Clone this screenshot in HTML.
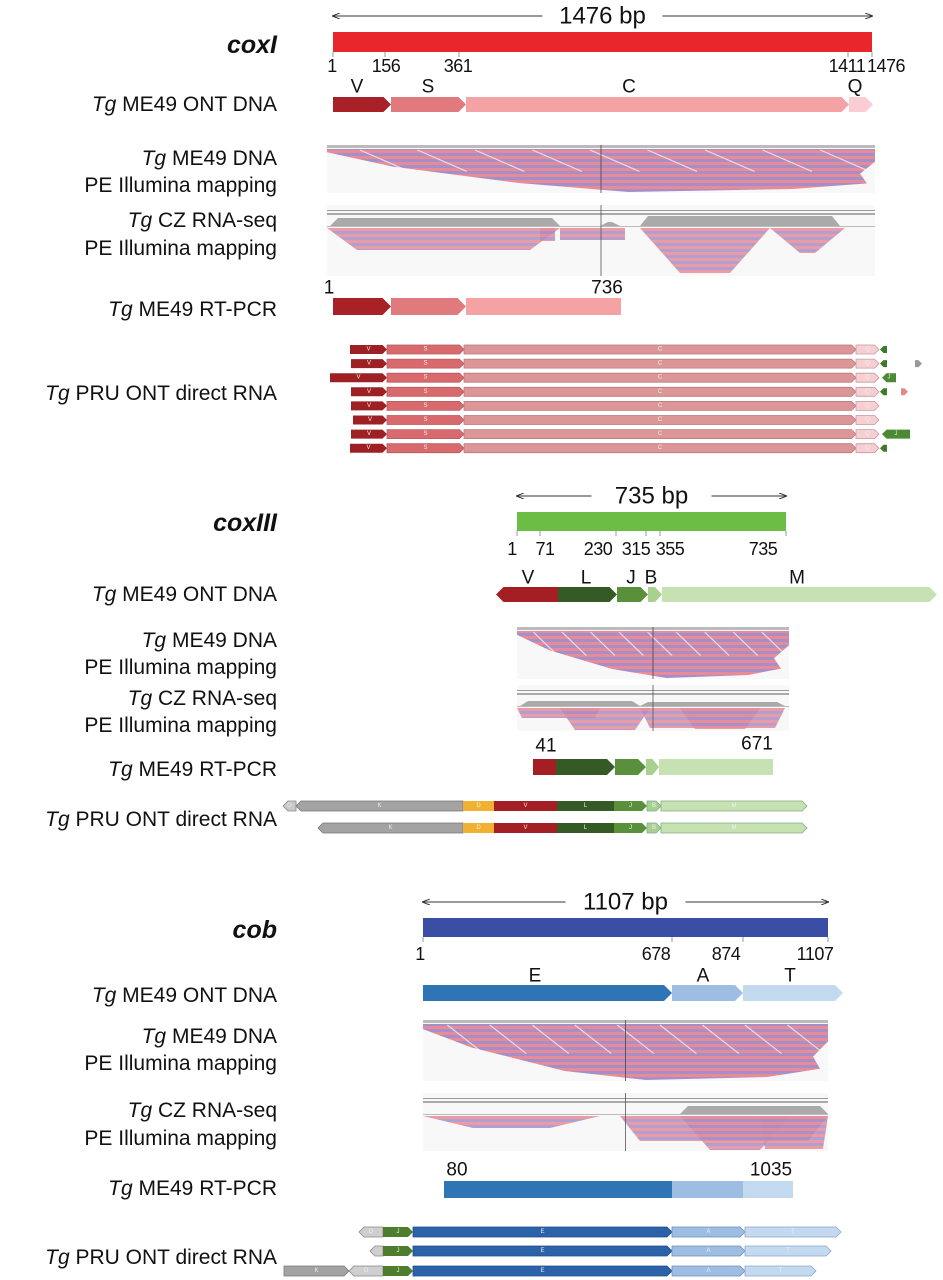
<!DOCTYPE html>
<html><head><meta charset="utf-8"><style>
html,body{margin:0;padding:0;background:#fff;}
svg{display:block;font-family:"Liberation Sans",sans-serif;}
</style></head><body>
<svg id="fig" width="943" height="1280" viewBox="0 0 943 1280" xmlns="http://www.w3.org/2000/svg">
<defs>
<pattern id="reads" width="12" height="6" patternUnits="userSpaceOnUse">
<rect width="12" height="6" fill="#e98a95"/><rect y="3" width="12" height="3" fill="#a48fcb"/>
</pattern>
<marker id="ah" markerWidth="8" markerHeight="6" refX="7" refY="3" orient="auto-start-reverse"><path d="M0,0 L8,3 L0,6" fill="none" stroke="#333" stroke-width="1"/></marker>
</defs>
<g id="root"></g>
</svg>
<script>
const NS='http://www.w3.org/2000/svg';
const root=document.getElementById('root');
function mk(tag,attrs,parent){const e=document.createElementNS(NS,tag);for(const k in attrs)e.setAttribute(k,attrs[k]);(parent||root).appendChild(e);return e;}
function txt(x,y,s,size,anchor,opts){opts=opts||{};const t=mk('text',{x:x,y:y,'font-size':size,'text-anchor':anchor||'middle','dominant-baseline':'central',fill:'#111'});
 if(opts.bold)t.setAttribute('font-weight','bold');if(opts.italic)t.setAttribute('font-style','italic');t.textContent=s;return t;}
function rowLabel(y,parts){const t=mk('text',{x:277,y:y,'font-size':21,'text-anchor':'end','dominant-baseline':'central',fill:'#111'});
 if(parts[0]){const a=mk('tspan',{'font-style':'italic'},t);a.textContent=parts[0];}
 const b=mk('tspan',{},t);b.textContent=parts[1];
 return t;}
function seg(x1,x2,y,h,color,r,l,label,lsize,stroke){
 const d=Math.min(h*0.5,(x2-x1)*0.5);const m=y+h/2;
 const pts=[[x1+(l?d:0),y],[x2-(r?d:0),y],[x2,m],[x2-(r?d:0),y+h],[x1+(l?d:0),y+h],[x1,m]];
 const p=mk('polygon',{points:pts.map(p=>p.join(',')).join(' '),fill:color});
 if(stroke){p.setAttribute('stroke',stroke);p.setAttribute('stroke-width',0.8);}
 
 if(label){const t=txt((x1+x2)/2,m,label,lsize||6,'middle');t.setAttribute('fill','#eee');}
 return p;}
function scaleBar(x1,x2,y,h,color,arrowY,bpText,ticks,tickY){
 mk('line',{x1:x1,y1:arrowY,x2:(x1+x2)/2-60,y2:arrowY,stroke:'#333','stroke-width':1,'marker-start':'url(#ah)'});
 mk('line',{x1:(x1+x2)/2+60,y1:arrowY,x2:x2,y2:arrowY,stroke:'#333','stroke-width':1,'marker-end':'url(#ah)'});
 const t=txt((x1+x2)/2,arrowY,bpText,24,'middle');
 const r=mk('rect',{x:x1,y:y,width:x2-x1,height:h,fill:color});
 ticks.forEach(tk=>{mk('line',{x1:tk[1],y1:y+h,x2:tk[1],y2:y+h+5,stroke:'#999','stroke-width':1});
  const tt=txt(tk[2],tickY,tk[0],18,'middle');tt.setAttribute('letter-spacing','-0.5');});}
function title(y,s){const t=txt(277,y,s,25,'end',{bold:true,italic:true});}
function dnaPanel(x1,x2,y1,y2){
 const g=mk('g',{});
 mk('rect',{x:x1,y:y1,width:x2-x1,height:y2-y1,fill:'#f8f8f8'},g);
 mk('rect',{x:x1,y:y1,width:x2-x1,height:3,fill:'#bbb'},g);
 const w=x2-x1,h=y2-y1;
 mk('polygon',{points:`${x1},${y1+4} ${x2},${y1+4} ${x2},${y1+h*0.35} ${x2-15},${y1+h*0.6} ${x2-8},${y1+h*0.8} ${x1+w*0.85},${y2-4} ${x1+w*0.55},${y2-1} ${x1+w*0.35},${y2-10} ${x1+w*0.12},${y1+h*0.45} ${x1},${y1+h*0.15}`,fill:'url(#reads)'},g);
 for(let i=0;i<9;i++){const sx=x1+w*(0.06+i*0.105);mk('line',{x1:sx,y1:y1+5,x2:sx+w*0.09,y2:y1+h*0.55,stroke:'#fff','stroke-width':1.2,opacity:0.7},g);}
 mk('line',{x1:x1+w*0.5,y1:y1,x2:x1+w*0.5,y2:y2,stroke:'#444','stroke-width':0.8},g);}
function rnaPanel(x1,x2,y1,y2,clusters,hills){
 const g=mk('g',{});
 mk('rect',{x:x1,y:y1,width:x2-x1,height:y2-y1,fill:'#f8f8f8'},g);
 mk('rect',{x:x1,y:y1+5,width:x2-x1,height:1,fill:'#999'},g);
 mk('rect',{x:x1,y:y1+8,width:x2-x1,height:2,fill:'#aaa'},g);
 hills.forEach(hl=>mk('polygon',{points:`${hl[0]},${y1+21} ${hl[0]+8},${y1+21-hl[2]} ${hl[1]-8},${y1+21-hl[2]} ${hl[1]},${y1+21}`,fill:'#aaa'},g));
 mk('rect',{x:x1,y:y1+21,width:x2-x1,height:1,fill:'#bbb'},g);
 clusters.forEach(c=>mk('polygon',{points:`${c[0]},${y1+23} ${c[1]},${y1+23} ${c[1]-c[3]},${y1+23+c[2]} ${c[0]+c[3]},${y1+23+c[2]}`,fill:'url(#reads)',opacity:0.85},g));
 mk('line',{x1:x1+(x2-x1)*0.5,y1:y1,x2:x1+(x2-x1)*0.5,y2:y2,stroke:'#555','stroke-width':0.8},g);}

// ===== coxI =====
title(45,'coxI');
scaleBar(333,872,32,20,'#e8262b',16,'1476 bp',[['1',333,332],['156',385,386],['361',459,458],['1411',848,847],['1476',872,886]],66);
rowLabel(104,['Tg',' ME49 ONT DNA']);
seg(333,391,97,15,'#a82126',true,false);seg(391,466,97,15,'#e07a7d',true,false);seg(466,849,97,15,'#f4a2a3',true,false);seg(849,873,97,15,'#f9cdd2',true,false);
[['V',357],['S',428],['C',629],['Q',855]].forEach(a=>txt(a[1],87,a[0],19,'middle'));
rowLabel(158,['Tg',' ME49 DNA']);rowLabel(185,['','PE Illumina mapping']);
dnaPanel(327,875,145,193);
rowLabel(220,['Tg',' CZ RNA-seq']);rowLabel(248,['','PE Illumina mapping']);
rnaPanel(327,875,205,276,[[327,560,22,30],[540,555,13,0],[560,625,12,0],[640,770,45,40],[770,845,25,30]],[[330,560,8],[600,620,4],[640,840,10]]);
rowLabel(309,['Tg',' ME49 RT-PCR']);
txt(329,288,'1',19,'middle');txt(607,288,'736',19,'middle');
seg(333,391,298,17,'#a82126',true,false);seg(391,466,298,17,'#e07a7d',true,false);mk('rect',{x:466,y:298,width:155,height:17,fill:'#f4a2a3'});
rowLabel(393,['Tg',' PRU ONT direct RNA']);
const coxIRows=[350,351,330,351,351,353,351,350];
const coxIEnd=[['tri'],['tri','g917'],['J1'],['tri','s902'],[],[],['J2'],['tri']];
coxIRows.forEach((vs,i)=>{const y=345+i*14.1;
 seg(vs,387,y,9,'#9c2024',true,false,'V');seg(387,464,y,9,'#d86a6e',true,false,'S',6,'#b85a5e');seg(464,856,y,9,'#dc9698',true,false,'C',6,'#b87a7c');seg(856,879,y,9,'#f6cfd3',true,false,'Q',6,'#c89aa0');
 coxIEnd[i].forEach(e=>{if(e==='tri')seg(880,887,y+1,7,'#3f7a2a',false,true);
  if(e==='J1')seg(882,896,y,9,'#4a8a32',false,true,'J');if(e==='J2')seg(882,910,y,9,'#4a8a32',false,true,'J');
  if(e==='g917')seg(915,922,y+1,7,'#999',true,false);if(e==='s902')seg(901,908,y+1,7,'#e08a8a',true,false);});});

// ===== coxIII =====
title(523,'coxIII');
scaleBar(517,786,512,19,'#6bbd45',496,'735 bp',[['1',517,512],['71',540,545],['230',616,598],['315',646,636],['355',660,670],['735',786,763]],549);
rowLabel(594,['Tg',' ME49  ONT DNA']);
seg(496,558,587,15,'#a31f24',false,true);seg(558,617,587,15,'#365a26',true,false);seg(617,648,587,15,'#5a8f3c',true,false);seg(648,662,587,15,'#a9d18e',true,false);seg(662,937,587,15,'#c6e2b2',true,false);
[['V',528],['L',586],['J',631],['B',651],['M',797]].forEach(a=>txt(a[1],578,a[0],19,'middle'));
rowLabel(640,['Tg',' ME49 DNA']);rowLabel(667,['','PE Illumina mapping']);
dnaPanel(517,789,627,679);
rowLabel(698,['Tg',' CZ RNA-seq']);rowLabel(725,['','PE Illumina mapping']);
rnaPanel(517,789,685,731,[[517,600,10,5],[560,650,22,15],[640,785,20,10],[680,760,21,15]],[[520,640,5],[640,785,4]]);
rowLabel(769,['Tg',' ME49 RT-PCR']);
txt(546,746,'41',19,'middle');txt(757,744,'671',19,'middle');
mk('rect',{x:533,y:759,width:23,height:16,fill:'#a31f24'});seg(556,615,759,16,'#365a26',true,false);seg(615,646,759,16,'#5a8f3c',true,false);seg(646,659,759,16,'#a9d18e',true,false);mk('rect',{x:659,y:759,width:114,height:16,fill:'#c6e2b2'});
rowLabel(819,['Tg',' PRU ONT direct RNA']);
[[806,true,283],[828,false,318]].forEach(r=>{const y=r[0]-5;
 if(r[1])seg(283,296,y,10,'#c8c8c8',false,true,'O',6,'#888');
 seg(r[1]?296:r[2],463,y,10,'#a3a3a3',false,true,'K',6,'#777');seg(463,494,y,10,'#f0b030',false,false,'D');seg(494,557,y,10,'#a31f24',false,false,'V');
 seg(557,614,y,10,'#365a26',false,false,'L');seg(614,647,y,10,'#5a8f3c',true,false,'J');seg(647,661,y,10,'#a9d18e',true,false,'B',6,'#7a9');seg(661,807,y,10,'#c6e2b2',true,false,'M',6,'#8a7');});

// ===== cob =====
title(930,'cob');
scaleBar(423,828,918,19,'#3a4fa3',902,'1107 bp',[['1',423,420],['678',672,656],['874',743,726],['1107',828,815]],954);
rowLabel(995,['Tg',' ME49 ONT DNA']);
seg(423,672,985,16,'#2f74b5',true,false);seg(672,743,985,16,'#9dbde2',true,false);seg(743,843,985,16,'#c3d9f0',true,false);
[['E',535],['A',703],['T',790]].forEach(a=>txt(a[1],976,a[0],19,'middle'));
rowLabel(1036,['Tg',' ME49 DNA']);rowLabel(1063,['','PE Illumina mapping']);
dnaPanel(423,828,1020,1081);
rowLabel(1110,['Tg',' CZ RNA-seq']);rowLabel(1138,['','PE Illumina mapping']);
rnaPanel(423,828,1093,1151,[[423,600,12,50],[620,828,25,20],[680,790,34,30],[760,828,33,5]],[[680,828,8]]);
rowLabel(1188,['Tg',' ME49 RT-PCR']);
txt(457,1170,'80',19,'middle');txt(771,1170,'1035',19,'middle');
mk('rect',{x:444,y:1181,width:228,height:17,fill:'#2f74b5'});mk('rect',{x:672,y:1181,width:71,height:17,fill:'#9dbde2'});mk('rect',{x:743,y:1181,width:50,height:17,fill:'#c3d9f0'});
rowLabel(1257,['Tg',' PRU ONT direct RNA']);
[[1232,359,841,false],[1251,370,831,false],[1271,349,816,true]].forEach(r=>{const y=r[0]-5;
 if(r[3])seg(284,349,y,10,'#a3a3a3',true,false,'K',6,'#777');
 seg(r[1],383,y,10,'#cfcfcf',false,true,r[1]<365?'O':'',6,'#888');seg(383,413,y,10,'#4f7d2e',true,false,'J');
 seg(413,672,y,10,'#2b62a8',true,false,'E',6,'#1f4f8a');seg(672,745,y,10,'#9dbde2',true,false,'A',6,'#6f8fb8');seg(745,r[2],y,10,'#c3d9f0',true,false,'T',6,'#8aa8cc');});
</script>
</body></html>
